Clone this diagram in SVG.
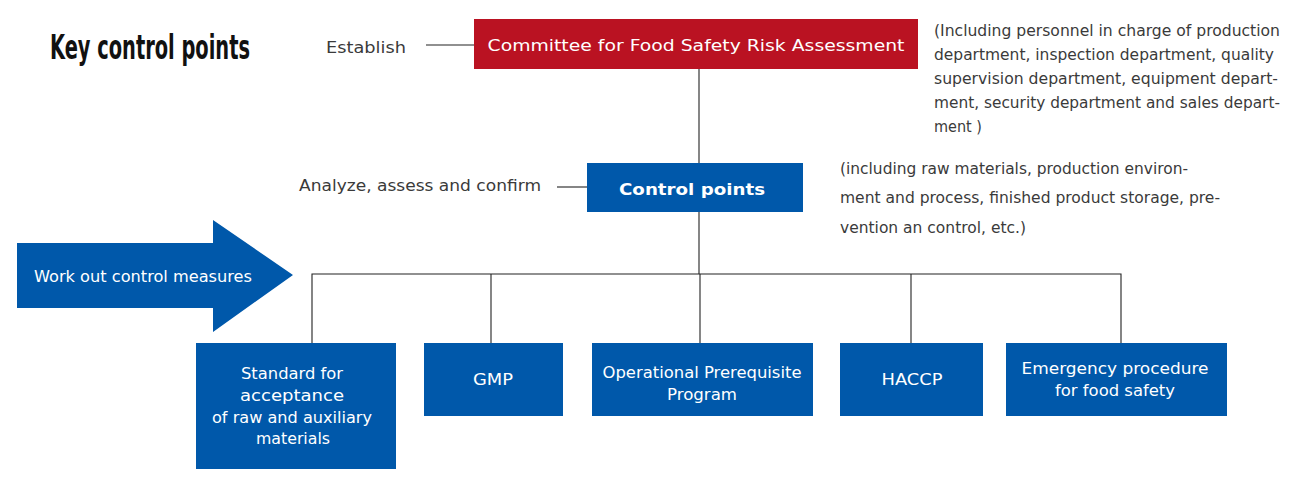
<svg xmlns="http://www.w3.org/2000/svg" width="1313" height="500" viewBox="0 0 1313 500">
<style>
.lbl{font-family:"DejaVu Sans","Liberation Sans",sans-serif;fill:#3a3a3a;font-size:16.5px}
.wt{font-family:"DejaVu Sans","Liberation Sans",sans-serif;fill:#ffffff;font-size:16px;text-anchor:middle}
.blue{fill:#0058AA}
.ln{stroke:#222;stroke-width:1.1;fill:none}
</style>
<rect width="1313" height="500" fill="#fff"/>
<g id="title" transform="translate(50,59) scale(1,1.2)">
<text x="0" y="0" font-family="DejaVu Sans Condensed,sans-serif" font-weight="bold" font-size="28" fill="#111" textLength="200" lengthAdjust="spacingAndGlyphs">Key control points</text>
</g>
<g id="connectors">
<line class="ln" x1="426" y1="45" x2="474" y2="45"/>
<line class="ln" x1="699" y1="69" x2="699" y2="163"/>
<line class="ln" x1="557" y1="187" x2="587" y2="187"/>
<line class="ln" x1="699" y1="212" x2="699" y2="274"/>
<polyline class="ln" points="312,343 312,274 1121,274 1121,343"/>
<line class="ln" x1="491" y1="274" x2="491" y2="343"/>
<line class="ln" x1="700" y1="274" x2="700" y2="343"/>
<line class="ln" x1="911" y1="274" x2="911" y2="343"/>
</g>
<g id="establish"><text class="lbl" x="326" y="53" font-size="19" textLength="80" lengthAdjust="spacingAndGlyphs">Establish</text></g>
<g id="committee">
<rect x="474" y="19" width="444" height="50" fill="#BA1222"/>
<text class="wt" x="696" y="51" font-size="20" textLength="417" lengthAdjust="spacingAndGlyphs">Committee for Food Safety Risk Assessment</text>
</g>
<g id="committee-note">
<text class="lbl" x="934" y="36" textLength="346" lengthAdjust="spacingAndGlyphs">(Including personnel in charge of production</text>
<text class="lbl" x="934" y="60" textLength="340" lengthAdjust="spacingAndGlyphs">department, inspection department, quality</text>
<text class="lbl" x="934" y="84" textLength="344" lengthAdjust="spacingAndGlyphs">supervision department, equipment depart-</text>
<text class="lbl" x="934" y="108" textLength="346" lengthAdjust="spacingAndGlyphs">ment, security department and sales depart-</text>
<text class="lbl" x="934" y="132" textLength="48" lengthAdjust="spacingAndGlyphs">ment )</text>
</g>
<g id="analyze"><text class="lbl" x="299" y="191" font-size="17.5" textLength="242" lengthAdjust="spacingAndGlyphs">Analyze, assess and confirm</text></g>
<g id="control-points">
<rect x="587" y="163" width="216" height="49" class="blue"/>
<text class="wt" x="692" y="195" font-size="21" font-weight="bold" textLength="146" lengthAdjust="spacingAndGlyphs">Control points</text>
</g>
<g id="control-note">
<text class="lbl" x="840" y="174" textLength="348" lengthAdjust="spacingAndGlyphs">(including raw materials, production environ-</text>
<text class="lbl" x="840" y="203" textLength="380" lengthAdjust="spacingAndGlyphs">ment and process, finished product storage, pre-</text>
<text class="lbl" x="840" y="233" textLength="186" lengthAdjust="spacingAndGlyphs">vention an control, etc.)</text>
</g>
<g id="arrow">
<polygon class="blue" points="17,243 213,243 213,220 293,275 213,332 213,308 17,308"/>
<text class="wt" x="143" y="282" font-size="17" textLength="218" lengthAdjust="spacingAndGlyphs">Work out control measures</text>
</g>
<g id="n1">
<rect x="196" y="343" width="200" height="126" class="blue"/>
<text class="wt" x="292" y="379" textLength="102" lengthAdjust="spacingAndGlyphs">Standard for</text>
<text class="wt" x="292" y="401" textLength="104" lengthAdjust="spacingAndGlyphs">acceptance</text>
<text class="wt" x="292" y="423" textLength="160" lengthAdjust="spacingAndGlyphs">of raw and auxiliary</text>
<text class="wt" x="293" y="444" textLength="74" lengthAdjust="spacingAndGlyphs">materials</text>
</g>
<g id="n2">
<rect x="424" y="343" width="139" height="73" class="blue"/>
<text class="wt" x="493" y="385" textLength="40" lengthAdjust="spacingAndGlyphs">GMP</text>
</g>
<g id="n3">
<rect x="592" y="343" width="221" height="73" class="blue"/>
<text class="wt" x="702" y="378" textLength="199" lengthAdjust="spacingAndGlyphs">Operational Prerequisite</text>
<text class="wt" x="702" y="400" textLength="70" lengthAdjust="spacingAndGlyphs">Program</text>
</g>
<g id="n4">
<rect x="840" y="343" width="143" height="73" class="blue"/>
<text class="wt" x="912" y="385" textLength="61" lengthAdjust="spacingAndGlyphs">HACCP</text>
</g>
<g id="n5">
<rect x="1006" y="343" width="221" height="73" class="blue"/>
<text class="wt" x="1115" y="374" textLength="187" lengthAdjust="spacingAndGlyphs">Emergency procedure</text>
<text class="wt" x="1115" y="396" textLength="120" lengthAdjust="spacingAndGlyphs">for food safety</text>
</g>
</svg>
